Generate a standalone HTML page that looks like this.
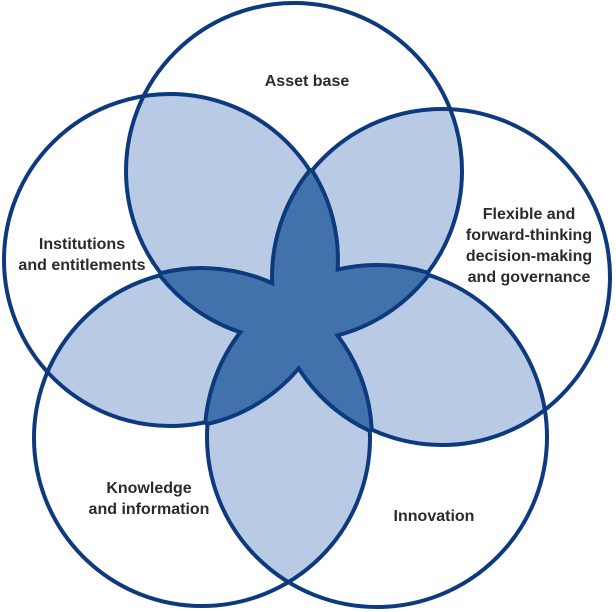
<!DOCTYPE html>
<html><head><style>
html,body{margin:0;padding:0;background:#fff;}
svg{display:block;}
text{font-family:"Liberation Sans",sans-serif;font-weight:bold;font-size:16px;fill:#2b2b2b;text-anchor:middle;}
</style></head><body>
<svg width="616" height="612" viewBox="0 0 616 612" xmlns="http://www.w3.org/2000/svg">
<defs>
<clipPath id="cA"><circle cx="294" cy="171" r="168"/></clipPath>
<clipPath id="cB"><circle cx="442" cy="277" r="168"/></clipPath>
<clipPath id="cC"><circle cx="377" cy="437" r="170"/></clipPath>
<clipPath id="cD"><circle cx="202" cy="438" r="168"/></clipPath>
<clipPath id="cE"><circle cx="170" cy="260" r="166"/></clipPath>
<g id="star">
<path d="M243.7,331.4 A168,168 0 0 0 426.5,274.4 A170,170 0 0 0 243.7,331.4Z"/>
<path d="M162,274.9 A168,168 0 0 0 334,334.1 A168,168 0 0 0 162,274.9Z"/>
<path d="M274.3,286.3 A168,168 0 0 0 369.7,428.7 A168,168 0 0 0 274.3,286.3Z"/>
<path d="M310.8,172.1 A168,168 0 0 0 298.7,364.7 A166,166 0 0 0 310.8,172.1Z"/>
<path d="M335.8,271.9 A170,170 0 0 0 207.4,421.9 A166,166 0 0 0 335.8,271.9Z"/>
</g>
</defs>
<g fill="#b9cbe4">
<circle clip-path="url(#cA)" cx="442" cy="277" r="168"/>
<circle clip-path="url(#cB)" cx="377" cy="437" r="170"/>
<circle clip-path="url(#cC)" cx="202" cy="438" r="168"/>
<circle clip-path="url(#cD)" cx="170" cy="260" r="166"/>
<circle clip-path="url(#cE)" cx="294" cy="171" r="168"/>
</g>
<g fill="none" stroke="#0d3a7e" stroke-width="4">
<circle cx="294" cy="171" r="168"/>
<circle cx="442" cy="277" r="168"/>
<circle cx="377" cy="437" r="170"/>
<circle cx="202" cy="438" r="168"/>
<circle cx="170" cy="260" r="166"/>
</g>
<use href="#star" fill="#4272ab" stroke="#0d3a7e" stroke-width="8" stroke-linejoin="round"/>
<use href="#star" fill="#4272ab"/>
<text x="307" y="86">Asset base</text>
<text x="82" y="249">Institutions</text>
<text x="82" y="270">and entitlements</text>
<text x="529" y="219">Flexible and</text>
<text x="529" y="240">forward-thinking</text>
<text x="529" y="261">decision-making</text>
<text x="529" y="282">and governance</text>
<text x="149" y="493">Knowledge</text>
<text x="149" y="514">and information</text>
<text x="434" y="521">Innovation</text>
</svg>
</body></html>
